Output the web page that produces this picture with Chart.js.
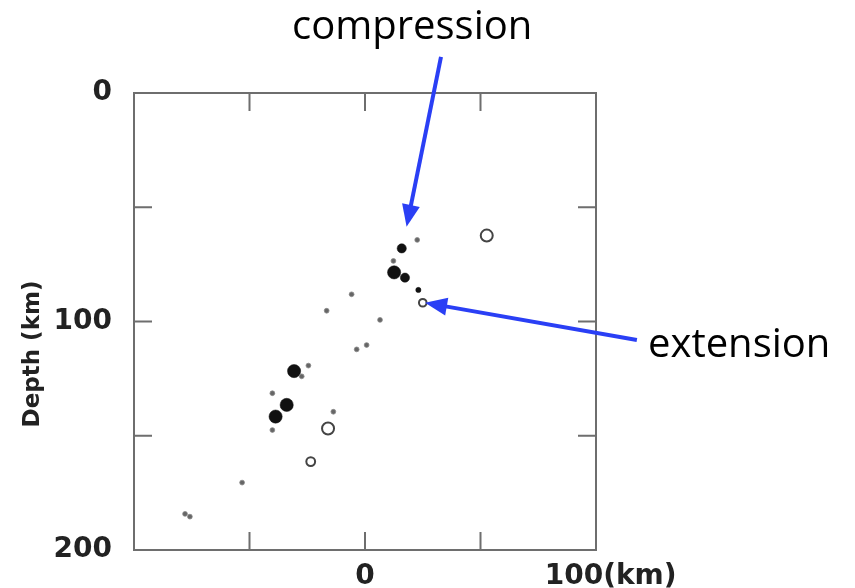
<!DOCTYPE html>
<html>
<head>
<meta charset="utf-8">
<script src="https://cdn.jsdelivr.net/npm/chart.js@4.4.0/dist/chart.umd.min.js"></script>
<style>
  html, body { margin: 0; padding: 0; background: #fff; }
  #wrap { width: 855px; height: 588px; }
</style>
</head>
<body>
<div id="wrap"><canvas id="c"></canvas></div>
<script>
// Données (distance en km, profondeur en km)
const compX = [15.9, 12.6, 17.3, 23.1, -30.7, -33.9, -38.7]
const compY = [68, 78.5, 80.8, 86.2, 121.7, 136.5, 141.6]
const compMag = [2, 3, 2, 1, 3, 3, 3]

const extX = [52.7, 25, -16, -23.5]
const extY = [62.4, 91.8, 146.8, 161.3]
const extMag = [3, 1, 3, 2]

const smallX = [22.6, 12.3, -5.8, -16.6, 6.5, 0.7, -3.6, -24.5, -27.4, -40.1, -40.1, -13.7, -53.2, -77.9, -75.8]
const smallY = [64.3, 73.5, 88.1, 95.3, 99.3, 110.3, 112.2, 119.3, 124, 131.4, 147.5, 139.5, 170.5, 184.2, 185.4]

const xTicks = [-100, -50, 0, 50, 100]
const yTicks = [0, 50, 100, 150, 200]
const xLabels = { 0: "0", 100: "   100(km)" }
const yLabels = { 0: "0", 100: "100", 200: "200" }

// Flèches : [x queue, y queue, x pointe, y pointe] en unités des axes
const arrowComp = [32.9, -15.8, 18.0, 58.5]
const arrowExt = [117.7, 108.1, 26.0, 91.8]

function toPoints(xs, ys) {
  return xs.map((x, i) => ({ x: x, y: ys[i] }))
}

const compRadius = { 1: 2.6, 2: 4.6, 3: 6.6 }
const extRadius = { 1: 3.8, 2: 4.4, 3: 6 }

// Cadre + graduations intérieures + annotations
const framePlugin = {
  id: "frame",
  afterDraw(chart) {
    const ctx = chart.ctx
    const a = chart.chartArea
    const xs = chart.scales.x
    const ys = chart.scales.y
    ctx.save()
    ctx.strokeStyle = "#6e6e6e"
    ctx.lineWidth = 2
    ctx.strokeRect(a.left, a.top, a.right - a.left, a.bottom - a.top)

    const tl = 18
    ctx.beginPath()
    xTicks.forEach((v) => {
      if (v === -100 || v === 100) return
      const px = xs.getPixelForValue(v)
      ctx.moveTo(px, a.top); ctx.lineTo(px, a.top + tl)
      ctx.moveTo(px, a.bottom); ctx.lineTo(px, a.bottom - tl)
    })
    yTicks.forEach((v) => {
      if (v === 0 || v === 200) return
      const py = ys.getPixelForValue(v)
      ctx.moveTo(a.left, py); ctx.lineTo(a.left + tl, py)
      ctx.moveTo(a.right, py); ctx.lineTo(a.right - tl, py)
    })
    ctx.stroke()

    // titre de l'axe vertical
    ctx.fillStyle = "#222"
    ctx.font = "bold 23px 'DejaVu Sans'"
    ctx.textAlign = "center"
    ctx.textBaseline = "middle"
    ctx.translate(33, 354)
    ctx.rotate(-Math.PI / 2)
    ctx.fillText("Depth (km)", 0, 0)
    ctx.restore()

    drawArrow(chart, arrowComp)
    drawArrow(chart, arrowExt)

    ctx.save()
    ctx.fillStyle = "#000"
    ctx.font = "40px 'Open Sans'"
    ctx.textBaseline = "alphabetic"
    ctx.textAlign = "left"
    ctx.fillText("compression", 292, 39)
    ctx.fillText("extension", 648, 357)
    ctx.restore()
  }
}

function drawArrow(chart, arr) {
  const ctx = chart.ctx
  const xs = chart.scales.x
  const ys = chart.scales.y
  const x0 = xs.getPixelForValue(arr[0])
  const y0 = ys.getPixelForValue(arr[1])
  const x1 = xs.getPixelForValue(arr[2])
  const y1 = ys.getPixelForValue(arr[3])
  const ang = Math.atan2(y1 - y0, x1 - x0)
  const hl = 22
  const hw = 9
  const bx = x1 - hl * Math.cos(ang)
  const by = y1 - hl * Math.sin(ang)
  ctx.save()
  ctx.strokeStyle = "#2a3ff5"
  ctx.fillStyle = "#2a3ff5"
  ctx.lineWidth = 4
  ctx.beginPath()
  ctx.moveTo(x0, y0)
  ctx.lineTo(bx + 4 * Math.cos(ang), by + 4 * Math.sin(ang))
  ctx.stroke()
  ctx.beginPath()
  ctx.moveTo(x1, y1)
  ctx.lineTo(bx + hw * Math.sin(ang), by - hw * Math.cos(ang))
  ctx.lineTo(bx - hw * Math.sin(ang), by + hw * Math.cos(ang))
  ctx.closePath()
  ctx.fill()
  ctx.restore()
}

new Chart(document.getElementById("c"), {
  type: "scatter",
  data: {
    datasets: [
      {
        label: "small",
        data: toPoints(smallX, smallY),
        pointRadius: 2.4,
        pointBackgroundColor: "#666",
        pointBorderColor: "#888",
        pointBorderWidth: 0.8,
      },
      {
        label: "compression",
        data: toPoints(compX, compY),
        pointRadius: compMag.map((m) => compRadius[m]),
        pointBackgroundColor: "#111",
        pointBorderColor: "#111",
        pointBorderWidth: 0.5,
      },
      {
        label: "extension",
        data: toPoints(extX, extY),
        pointRadius: extMag.map((m) => extRadius[m]),
        pointBackgroundColor: "#fff",
        pointBorderColor: "#444",
        pointBorderWidth: 2,
      },
    ],
  },
  options: {
    responsive: true,
    maintainAspectRatio: false,
    animation: false,
    events: [],
    layout: { padding: { top: 93, right: 259, left: 0, bottom: 0 } },
    plugins: {
      legend: { display: false },
      tooltip: { enabled: false },
    },
    scales: {
      x: {
        type: "linear",
        min: -100,
        max: 100,
        afterBuildTicks: (s) => { s.ticks = xTicks.map((v) => ({ value: v })) },
        afterFit: (s) => { s.height = 38 },
        grid: { display: false },
        border: { display: false },
        ticks: {
          color: "#222",
          font: { family: "DejaVu Sans", size: 28, weight: "bold" },
          padding: 2,
          maxRotation: 0,
          autoSkip: false,
          callback: (v) => xLabels[v] || "",
        },
      },
      y: {
        type: "linear",
        min: 0,
        max: 200,
        reverse: true,
        afterBuildTicks: (s) => { s.ticks = yTicks.map((v) => ({ value: v })) },
        afterFit: (s) => { s.width = 134 },
        grid: { display: false },
        border: { display: false },
        ticks: {
          color: "#222",
          font: { family: "DejaVu Sans", size: 28, weight: "bold" },
          padding: 14,
          autoSkip: false,
          callback: (v) => yLabels[v] || "",
        },
      },
    },
  },
  plugins: [framePlugin],
})
</script>
</body>
</html>
